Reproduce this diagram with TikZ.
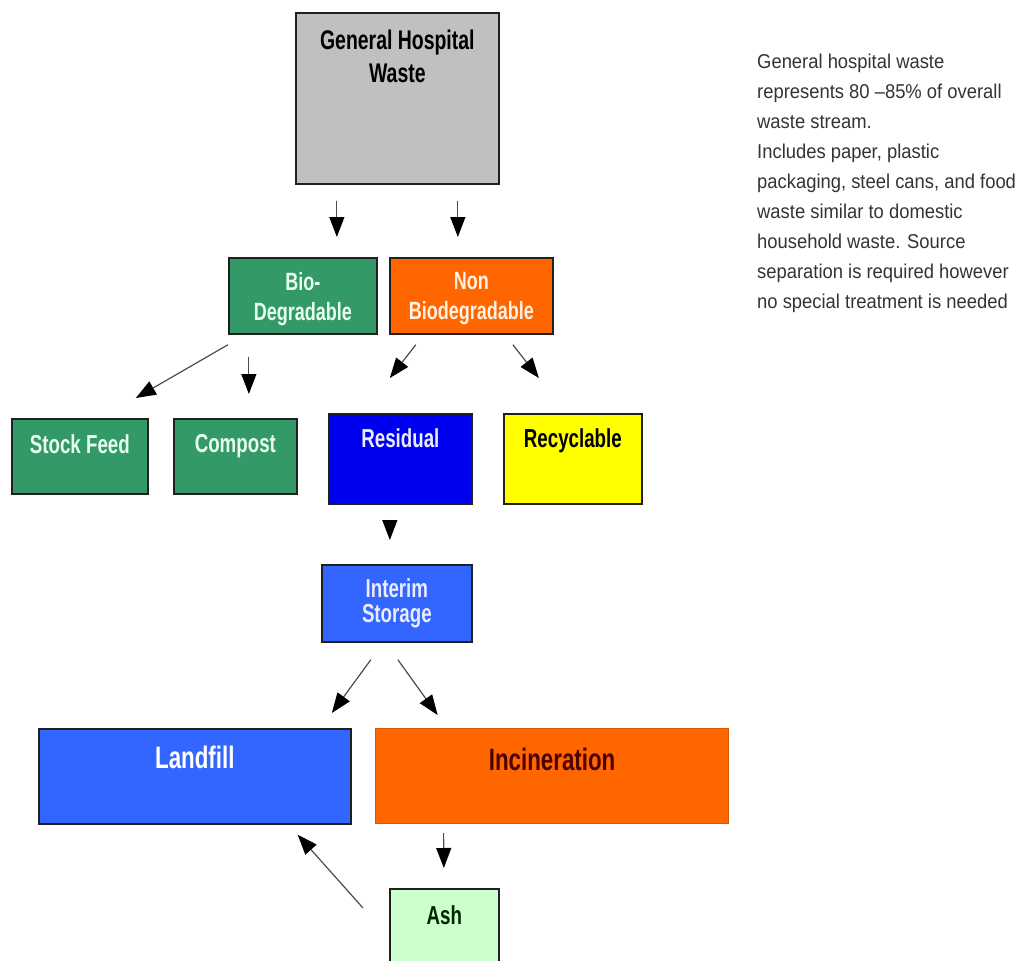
\documentclass[tikz,border=0pt]{standalone}
\usepackage{fontspec}
\setmainfont{Liberation Sans}
\newfontfamily\schmal[FakeStretch=0.72]{Liberation Sans}
\newfontfamily\textschrift[FakeStretch=0.92]{Liberation Sans}
\newcommand{\boxschrift}[2]{\schmal\bfseries\fontsize{#1}{#2}\selectfont}
\usepackage{tikz}
\usetikzlibrary{arrows.meta}
\definecolor{grau}{HTML}{C0C0C0}
\definecolor{gruen}{HTML}{339966}
\definecolor{orang}{HTML}{FF6600}
\definecolor{blau}{HTML}{0000F0}
\definecolor{hblau}{HTML}{3366FF}
\definecolor{gelb}{HTML}{FFFF00}
\definecolor{hgruen}{HTML}{CCFFCC}
\definecolor{rahmen}{HTML}{202020}
\definecolor{hell}{HTML}{E8FFF0}

\begin{document}
\begin{tikzpicture}[x=1pt, y=-1pt,
		>={Triangle[length=20pt,width=15pt,color=black]},   %Pfeilspitzen
		box/.style={draw=rahmen, line width=1.7pt, inner sep=0pt, anchor=north west},
		txt/.style={inner sep=0pt, anchor=north, align=center},
		pfeil/.style={->, line width=1.2pt, draw=black!70}]
		%Bildbereich
		\useasboundingbox (0,0) rectangle (1021,961);
		% Kaesten zeichnen
		\node[box, fill=grau, minimum width=203, minimum height=171,
			label={[txt, font=\boxschrift{27}{33}, yshift=-17.7]north:{General Hospital\\Waste}}] (gen) at (295,12) {};
		\node[box, fill=gruen, minimum width=148, minimum height=76,
			label={[txt, font=\boxschrift{25}{30}, text=hell, yshift=-15]north:{Bio-\\Degradable}}] (bio) at (228,257) {};
		\node[box, fill=orang, minimum width=163, minimum height=76,
			label={[txt, font=\boxschrift{25}{30}, text=orange!10, yshift=-15]north:{Non\\Biodegradable}}] (nonbio) at (389,257) {};
		\node[box, fill=gruen, minimum width=136, minimum height=75,
			label={[txt, font=\boxschrift{26}{30}, text=hell, yshift=-16.4]north:{Stock Feed}}] (stock) at (11,418) {};
		\node[box, fill=gruen, minimum width=123, minimum height=75,
			label={[txt, font=\boxschrift{26}{30}, text=hell, yshift=-16.4]north:{Compost}}] (compost) at (173,418) {};
		\node[box, fill=blau, minimum width=143, minimum height=90,
			label={[txt, font=\boxschrift{26}{30}, text=blue!8, yshift=-15.4]north:{Residual}}] (residual) at (328,413) {};
		\node[box, fill=gelb, minimum width=138, minimum height=90,
			label={[txt, font=\boxschrift{26}{30}, yshift=-15.4]north:{Recyclable}}] (recyc) at (503,413) {};
		\node[box, fill=hblau, minimum width=150, minimum height=77,
			label={[txt, font=\boxschrift{26}{25}, text=blue!8, yshift=-14.4]north:{Interim\\Storage}}] (interim) at (321,564) {};
		\node[box, fill=hblau, minimum width=312, minimum height=95,
			label={[txt, font=\boxschrift{31}{36}, text=white, yshift=-17.8]north:{Landfill}}] (landfill) at (38,728) {};
		\node[box, draw=orang!85!black, line width=1.2pt, fill=orang, minimum width=353, minimum height=95,
			label={[txt, font=\boxschrift{31}{36}, text=red!30!black, yshift=-19.8]north:{Incineration}}] (incin) at (375,728) {};
		\node[box, fill=hgruen, minimum width=109, minimum height=80,
			label={[txt, font=\boxschrift{26}{30}, text=green!15!black, yshift=-17.4]north:{Ash}}] (ash) at (389,888) {};
		% Erlaeuterung
		\node[anchor=north west, align=left, inner sep=0pt, text=black!80,
			font=\textschrift\fontsize{20}{30}\selectfont] (info) at (757,53.7)
			{General hospital waste\\represents 80 –85\% of overall\\waste stream.\\Includes paper, plastic\\packaging, steel cans, and food\\waste similar to domestic\\household waste. Source\\separation is required however\\no special treatment is needed};
		% Pfeile zeichnen
		\draw[pfeil] ([xshift=-60.5,yshift=-16]gen.south) -- ([xshift=34,yshift=20]bio.north);
		\draw[pfeil] ([xshift=60.5,yshift=-16]gen.south) -- ([xshift=-13.5,yshift=20]nonbio.north);
		\draw[pfeil] ([yshift=-10]bio.south west) -- ([xshift=56,yshift=20]stock.north);
		\draw[pfeil] ([xshift=-54,yshift=-22]bio.south) -- ([xshift=13.5,yshift=24]compost.north);
		\draw[pfeil] ([xshift=-55.5,yshift=-10]nonbio.south) -- ([xshift=-10.5,yshift=35]residual.north);
		\draw[pfeil] ([xshift=41.5,yshift=-10]nonbio.south) -- ([xshift=-34,yshift=35]recyc.north);
		\draw[pfeil] ([xshift=-10.5,yshift=-15]residual.south) -- ([xshift=-7,yshift=24]interim.north);
		\draw[pfeil] ([xshift=-26,yshift=-17]interim.south) -- ([xshift=137,yshift=15]landfill.north);
		\draw[pfeil] ([xshift=1,yshift=-17]interim.south) -- ([xshift=-114.5,yshift=13]incin.north);
		\draw[pfeil] ([xshift=-108.5,yshift=-9]incin.south) -- ([xshift=-0.5,yshift=20]ash.north);
		\draw[pfeil] ([xshift=-26,yshift=-20]ash.north west) -- ([xshift=-54,yshift=-10]landfill.south east);
	\end{tikzpicture}
\end{document}
